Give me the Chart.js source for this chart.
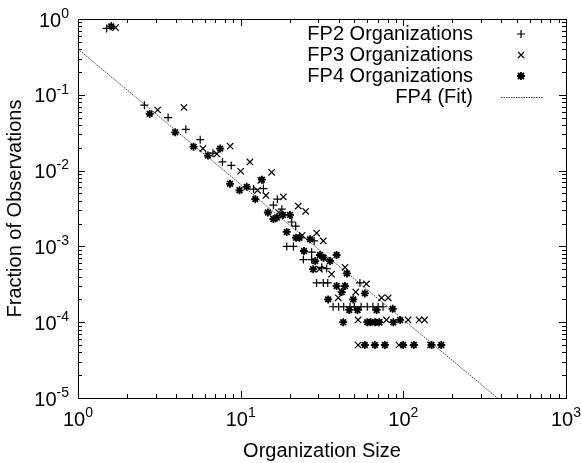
<!DOCTYPE html>
<html>
<head>
<meta charset="utf-8">
<script src="https://cdn.jsdelivr.net/npm/chart.js@4"></script>
<style>
  html, body { margin: 0; padding: 0; background: #fff; }
  #wrap { width: 582px; height: 463px; }
</style>
</head>
<body>
<div id="wrap"><canvas id="chart" width="582" height="463"></canvas></div>
<script>
// values (organization size vs fraction of observations)
const fp2Size = [1.5, 2.56, 3.58, 4.6, 5.64, 6.75, 7.73, 8.75, 12.0, 13.8, 15.9, 16.8, 17.9, 20.6, 21.8, 19.2, 21.1, 27.3, 28.3, 24.3,
  27.3, 33.8, 31.5, 29.3, 32.2, 34.3, 54.1, 37, 40, 43, 47, 50, 55, 60, 65, 70, 75];
const fp2Frac = [0.75, 0.073, 0.05, 0.035, 0.0256, 0.017, 0.013, 0.0117, 0.0057, 0.0058, 0.0035, 0.0042, 0.0031, 0.0021, 0.00185, 0.001, 0.001, 0.00084, 0.00118, 0.00067,
  0.00067, 0.00051, 0.00053, 0.00033, 0.00033, 0.00033, 0.00033, 0.00016, 0.00016, 0.00016, 0.00016, 0.00016, 0.00016, 0.00016, 0.00016, 0.00016, 0.00016];

const fp3Size = [1.7, 3.09, 4.48, 5.86, 7.14, 8.62, 10.0, 11.4, 12.7, 13.3, 14.3, 15.5, 17.1, 18.3, 22.6, 25.1, 23.9, 29.3, 32.2, 30.5,
  36.2, 43.8, 59.3, 39.8, 51, 73.5, 80.7, 52.7, 65, 71, 78.7, 107, 125, 135, 52.7, 94, 147];
const fp3Frac = [0.77, 0.063, 0.068, 0.0195, 0.0166, 0.021, 0.0098, 0.013, 0.0055, 0.0074, 0.0047, 0.0095, 0.0028, 0.0045, 0.0034, 0.0029, 0.0014, 0.0015, 0.00118, 0.0005,
  0.00043, 0.00053, 0.00032, 0.00021, 0.00025, 0.00021, 0.00021, 0.000107, 0.0001, 0.0001, 0.000107, 0.000107, 0.000107, 0.000107, 0.00005, 0.00005, 0.00005];

const fp4Size = [1.6, 2.76, 3.96, 5.13, 6.29, 7.48, 8.6, 9.84, 10.9, 12.3, 13.5, 14.7, 15.9, 16.7, 18.2, 20.1, 19.2, 21.9, 23, 24.5,
  26.7, 28.7, 30.7, 32.3, 35.4, 38.9, 27.9, 38.9, 43.8, 45, 34.5, 41.8, 49.2, 58, 46.5, 52.3, 68.5, 86, 42.7, 60,
  63, 67, 71, 86.8, 95.6, 58, 66.8, 77, 99.7, 116, 149, 171];
const fp4Frac = [0.8, 0.056, 0.032, 0.0207, 0.0158, 0.0195, 0.0067, 0.0055, 0.0061, 0.0042, 0.0076, 0.0028, 0.0023, 0.0024, 0.0026, 0.0026, 0.00155, 0.0013, 0.0013, 0.00087,
  0.00124, 0.00064, 0.00077, 0.00071, 0.00064, 0.00077, 0.0005, 0.0003, 0.0003, 0.00044, 0.0002, 0.00025, 0.0002, 0.00024, 0.000145, 0.000145, 0.000145, 0.00015, 0.0001, 0.0001,
  0.0001, 0.0001, 0.0001, 0.0001, 0.000107, 0.00005, 0.00005, 0.00005, 0.00005, 0.00005, 0.00005, 0.00005];

// power law fit, two end points
const fitSize = [1, 1000];
const fitFrac = [0.4, 1.77e-6];

const xTicks = [1, 10, 100, 1000];
const yTicks = [1e-5, 1e-4, 1e-3, 1e-2, 1e-1, 1];
const seriesNames = ["FP2 Organizations", "FP3 Organizations", "FP4 Organizations", "FP4 (Fit)"];
const xTitle = "Organization Size";
const yTitle = "Fraction of Observations";

const FONT = '"Liberation Sans", Arial, Helvetica, sans-serif';

function toPoints(xs, ys) {
  return xs.map((x, i) => ({ x: x, y: ys[i] }));
}

// "10" with a raised exponent
function drawPow(ctx, v, x, y, align) {
  const e = String(Math.round(Math.log10(v)));
  ctx.font = "20px " + FONT;
  const wb = ctx.measureText("10").width;
  ctx.font = "14px " + FONT;
  const we = ctx.measureText(e).width;
  let start = x - (wb + we) / 2;
  if (align === "right") start = x - wb - we;
  ctx.textAlign = "left";
  ctx.textBaseline = "middle";
  ctx.font = "20px " + FONT;
  ctx.fillText("10", start, y);
  ctx.font = "14px " + FONT;
  ctx.fillText(e, start + wb, y - 7);
}

function drawSymbol(ctx, style, x, y) {
  const r = 4;
  ctx.beginPath();
  if (style === "cross" || style === "star") {
    ctx.moveTo(x - r, y); ctx.lineTo(x + r, y);
    ctx.moveTo(x, y - r); ctx.lineTo(x, y + r);
  }
  if (style === "crossRot" || style === "star") {
    const d = r * 0.75;
    ctx.moveTo(x - d, y - d); ctx.lineTo(x + d, y + d);
    ctx.moveTo(x - d, y + d); ctx.lineTo(x + d, y - d);
  }
  ctx.stroke();
}

const frame = {
  id: "frame",
  afterDraw(chart) {
    const ctx = chart.ctx;
    const a = chart.chartArea;
    const xs = chart.scales.x, ys = chart.scales.y;
    ctx.save();
    ctx.strokeStyle = "#000";
    ctx.fillStyle = "#000";
    ctx.lineWidth = 1;
    // box
    ctx.strokeRect(Math.round(a.left) + 0.5, Math.round(a.top) + 0.5,
      Math.round(a.right - a.left), Math.round(a.bottom - a.top));

    // ticks, mirrored on all four sides
    ctx.beginPath();
    for (let d = 0; d < 3; d++) {
      for (let k = 1; k <= 9; k++) {
        const v = k * Math.pow(10, d);
        const px = Math.round(xs.getPixelForValue(v)) + 0.5;
        const len = k === 1 ? 7 : 4;
        ctx.moveTo(px, a.bottom); ctx.lineTo(px, a.bottom - len);
        ctx.moveTo(px, a.top); ctx.lineTo(px, a.top + len);
      }
    }
    for (let d = -5; d < 0; d++) {
      for (let k = 1; k <= 9; k++) {
        const v = k * Math.pow(10, d);
        const py = Math.round(ys.getPixelForValue(v)) + 0.5;
        const len = k === 1 ? 7 : 4;
        ctx.moveTo(a.left, py); ctx.lineTo(a.left + len, py);
        ctx.moveTo(a.right, py); ctx.lineTo(a.right - len, py);
      }
    }
    ctx.stroke();

    // tick labels
    xTicks.forEach(v => drawPow(ctx, v, xs.getPixelForValue(v), a.bottom + 22, "center"));
    yTicks.forEach(v => drawPow(ctx, v, a.left - 9, ys.getPixelForValue(v) + 2, "right"));

    // axis titles
    ctx.font = "20px " + FONT;
    ctx.textAlign = "center";
    ctx.textBaseline = "middle";
    ctx.fillText(xTitle, (a.left + a.right) / 2, 451);
    ctx.save();
    ctx.translate(15, (a.top + a.bottom) / 2);
    ctx.rotate(-Math.PI / 2);
    ctx.fillText(yTitle, 0, 0);
    ctx.restore();

    // key, top right, text right-aligned with sample to the right
    const styles = ["cross", "crossRot", "star"];
    const textRight = a.right - 93;
    const symX = a.right - 45;
    for (let i = 0; i < seriesNames.length; i++) {
      const y = a.top + 15 + i * 21;
      ctx.font = "20px " + FONT;
      ctx.textAlign = "right";
      ctx.textBaseline = "middle";
      ctx.fillText(seriesNames[i], textRight, y);
      if (i < 3) {
        ctx.lineWidth = i === 2 ? 1.8 : 1.2;
        drawSymbol(ctx, styles[i], symX, y);
      } else {
        ctx.strokeStyle = "#444";
        ctx.lineWidth = 1;
        ctx.setLineDash([1.5, 1]);
        ctx.beginPath();
        ctx.moveTo(symX - 20, y + 0.5); ctx.lineTo(symX + 22, y + 0.5);
        ctx.stroke();
        ctx.setLineDash([]);
      }
    }
    ctx.restore();
  }
};

const chart = new Chart(document.getElementById("chart").getContext("2d"), {
  type: "scatter",
  data: {
    datasets: [
      {
        label: seriesNames[0],
        data: toPoints(fp2Size, fp2Frac),
        pointStyle: "cross",
        pointRadius: 4,
        borderColor: "#000",
        backgroundColor: "#000",
        borderWidth: 1.2
      },
      {
        label: seriesNames[1],
        data: toPoints(fp3Size, fp3Frac),
        pointStyle: "crossRot",
        pointRadius: 4.5,
        borderColor: "#000",
        backgroundColor: "#000",
        borderWidth: 1.2
      },
      {
        label: seriesNames[2],
        data: toPoints(fp4Size, fp4Frac),
        pointStyle: "star",
        pointRadius: 4,
        borderColor: "#000",
        backgroundColor: "#000",
        borderWidth: 1.8
      },
      {
        type: "line",
        label: seriesNames[3],
        data: toPoints(fitSize, fitFrac),
        showLine: true,
        pointRadius: 0,
        borderColor: "#444",
        borderWidth: 1,
        borderDash: [1.5, 1],
        fill: false
      }
    ]
  },
  options: {
    responsive: false,
    animation: false,
    devicePixelRatio: 1,
    layout: { padding: { left: 78, right: 16, top: 19, bottom: 65 } },
    plugins: { legend: { display: false }, tooltip: { enabled: false } },
    scales: {
      x: { type: "logarithmic", min: 1, max: 1000, display: false },
      y: { type: "logarithmic", min: 1e-5, max: 1, display: false }
    }
  },
  plugins: [frame]
});
</script>
</body>
</html>
